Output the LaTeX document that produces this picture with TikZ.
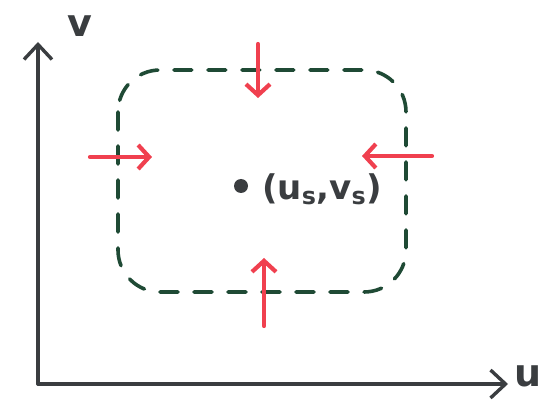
\documentclass[tikz,border=0pt]{standalone}
\usetikzlibrary{arrows.meta}
\usepackage{fontspec}
\setsansfont{DejaVu Sans}
\definecolor{axisgray}{HTML}{3A3D40}
\definecolor{bgreen}{HTML}{1F4A35}
\definecolor{ared}{HTML}{F0404F}
\tikzset{
  axisline/.style={draw=axisgray, line width=3.4pt, line cap=round, line join=round, -{Straight Barb[length=15pt,width=28pt,line width=3.4pt]}},
  boundary/.style={draw=bgreen, line width=3.6pt, line cap=round, dash pattern=on 18pt off 16pt, rounded corners=42pt},
  flowarrow/.style={draw=ared, line width=4.2pt, line cap=round, line join=round, -{Straight Barb[length=11pt,width=24pt,line width=4.2pt]}},
  handlabel/.style={text=axisgray, font=\sffamily\bfseries\fontsize{38}{38}\selectfont, inner sep=0pt},
  ptlabel/.style={text=axisgray, font=\sffamily\bfseries\fontsize{34}{34}\selectfont, inner sep=0pt, anchor=west}
}
\begin{document}
\begin{tikzpicture}[x=1pt,y=-1pt]
\useasboundingbox (0,0) rectangle (560,414);
% axes
\coordinate (O) at (38,384);
\coordinate (ytop) at (38,42);
\coordinate (xend) at (508,384);
\draw[axisline] (O) -- (ytop);
\draw[axisline] (O) -- (xend);
\node[handlabel] (vlab) at (80,26) {v};
\node[handlabel] (ulab) at (528,376) {u};
% boundary
\draw[boundary] (118,70) rectangle (406,292);
% point
\node[circle, fill=axisgray, minimum size=14pt, inner sep=0pt] (pt) at (241,186) {};
\node[ptlabel] (ptl) at (262,189) {(u\textsubscript{s},v\textsubscript{s})};
% red arrows
\coordinate (t1) at (258,44);
\coordinate (t2) at (258,98);
\coordinate (b1) at (264,326);
\coordinate (b2) at (264,258);
\coordinate (l1) at (90,157);
\coordinate (l2) at (152,157);
\coordinate (r1) at (432,156);
\coordinate (r2) at (362,156);
\draw[flowarrow] (t1) -- (t2);
\draw[flowarrow] (b1) -- (b2);
\draw[flowarrow] (l1) -- (l2);
\draw[flowarrow] (r1) -- (r2);
\end{tikzpicture}
\end{document}
